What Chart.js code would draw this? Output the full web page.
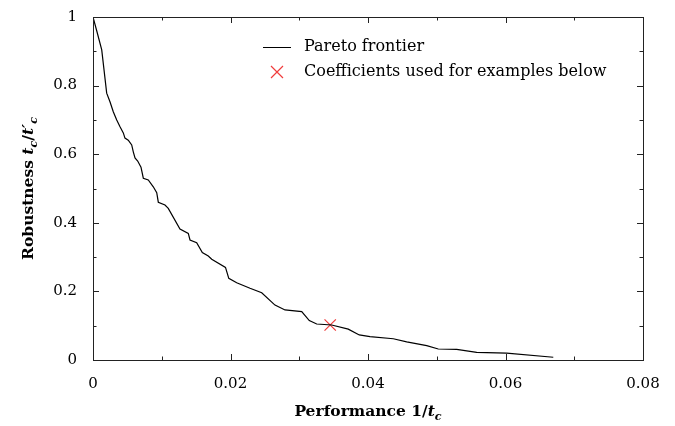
<!DOCTYPE html>
<html>
<head>
<meta charset="utf-8">
<script src="https://cdn.jsdelivr.net/npm/chart.js@4/dist/chart.umd.min.js"></script>
<style>
  html, body { margin: 0; padding: 0; background: #fff; }
  #wrap { width: 675px; height: 426px; }
</style>
</head>
<body>
<div id="wrap"><canvas id="paretoChart"></canvas></div>
<script>
// Pareto frontier
const performance = [0, 0.00054, 0.00127, 0.00199, 0.00247, 0.00295, 0.00345, 0.00393, 0.00441, 0.00465,
    0.00513, 0.00563, 0.00586, 0.00611, 0.0065, 0.00698, 0.00732, 0.00804, 0.00877, 0.00927,
    0.0095, 0.01047, 0.01095, 0.01265, 0.01386, 0.01411, 0.01508, 0.0159, 0.01677, 0.01727,
    0.01927, 0.01975, 0.0209, 0.02284, 0.02454, 0.02647, 0.02793, 0.03036, 0.03146, 0.03254,
    0.03472, 0.03713, 0.03873, 0.04029, 0.04368, 0.04563, 0.04854, 0.05022, 0.0529, 0.05581,
    0.06017, 0.06695];
const robustness = [1.0, 0.96, 0.904, 0.778, 0.753, 0.724, 0.700, 0.680, 0.662, 0.647,
    0.641, 0.627, 0.607, 0.589, 0.580, 0.562, 0.530, 0.525, 0.505, 0.488,
    0.460, 0.452, 0.442, 0.382, 0.369, 0.350, 0.342, 0.313, 0.303, 0.294,
    0.270, 0.238, 0.225, 0.209, 0.196, 0.160, 0.146, 0.141, 0.115, 0.105,
    0.102, 0.090, 0.073, 0.068, 0.062, 0.053, 0.042, 0.032, 0.031, 0.022,
    0.020, 0.008];

const exampleX = [0.0345];
const exampleY = [0.102];

const xTickValues = [0, 0.01, 0.02, 0.03, 0.04, 0.05, 0.06, 0.07, 0.08];
const xTickLabels = ['0', '', '0.02', '', '0.04', '', '0.06', '', '0.08'];
const yTickValues = [0, 0.1, 0.2, 0.3, 0.4, 0.5, 0.6, 0.7, 0.8, 0.9, 1];
const yTickLabels = ['0', '', '0.2', '', '0.4', '', '0.6', '', '0.8', '', '1'];

const SERIF = '"DejaVu Serif", "Liberation Serif", serif';
const RED = '#f03c3c';

// draws text made of several runs (normal / italic / subscript)
function drawRuns(ctx, runs, x, y, size) {
    let total = 0;
    runs.forEach(r => {
        ctx.font = (r.style || '') + ' ' + (r.sub ? size * 0.72 : size) + 'px ' + SERIF;
        r.w = ctx.measureText(r.t).width;
        total += r.w;
    });
    let cx = x - total / 2;
    runs.forEach(r => {
        ctx.font = (r.style || '') + ' ' + (r.sub ? size * 0.72 : size) + 'px ' + SERIF;
        ctx.fillText(r.t, cx, y + (r.sub ? size * 0.25 : 0));
        cx += r.w;
    });
}

const framePlugin = {
    id: 'framePlugin',
    afterDraw(chart) {
        const ctx = chart.ctx;
        const a = chart.chartArea;
        const xs = chart.scales.x, ys = chart.scales.y;
        ctx.save();
        ctx.strokeStyle = '#222';
        ctx.lineWidth = 1;
        ctx.strokeRect(a.left + 0.5, a.top + 0.5, a.right - a.left, a.bottom - a.top);

        // inward ticks on all four sides
        ctx.beginPath();
        xTickValues.forEach((v, i) => {
            const px = Math.round(xs.getPixelForValue(v)) + 0.5;
            const len = xTickLabels[i] ? 6 : 3.5;
            ctx.moveTo(px, a.bottom); ctx.lineTo(px, a.bottom - len);
            ctx.moveTo(px, a.top); ctx.lineTo(px, a.top + len);
        });
        yTickValues.forEach((v, i) => {
            const py = Math.round(ys.getPixelForValue(v)) + 0.5;
            const len = yTickLabels[i] ? 6 : 3.5;
            ctx.moveTo(a.left, py); ctx.lineTo(a.left + len, py);
            ctx.moveTo(a.right, py); ctx.lineTo(a.right - len, py);
        });
        ctx.stroke();

        // legend
        ctx.fillStyle = '#000';
        ctx.textBaseline = 'middle';
        ctx.textAlign = 'left';
        ctx.font = '16px ' + SERIF;
        ctx.beginPath();
        ctx.strokeStyle = '#000';
        ctx.moveTo(263, 47.5); ctx.lineTo(291, 47.5);
        ctx.stroke();
        ctx.fillText('Pareto frontier', 304, 47);
        ctx.strokeStyle = RED;
        ctx.lineWidth = 1.2;
        ctx.beginPath();
        ctx.moveTo(271, 66); ctx.lineTo(283, 78);
        ctx.moveTo(283, 66); ctx.lineTo(271, 78);
        ctx.stroke();
        ctx.fillText('Coefficients used for examples below', 304, 72);

        // axis titles
        ctx.textBaseline = 'alphabetic';
        drawRuns(ctx, [
            { t: 'Performance 1/', style: 'bold' },
            { t: 't', style: 'italic bold' },
            { t: 'c', style: 'italic bold', sub: true }
        ], (a.left + a.right) / 2, 416, 15.5);

        ctx.translate(33, (a.top + a.bottom) / 2);
        ctx.rotate(-Math.PI / 2);
        drawRuns(ctx, [
            { t: 'Robustness ', style: 'bold' },
            { t: 't', style: 'italic bold' },
            { t: 'c', style: 'italic bold', sub: true },
            { t: '/', style: 'bold' },
            { t: 't\u2032', style: 'italic bold' },
            { t: 'c', style: 'italic bold', sub: true }
        ], 0, 0, 15.5);
        ctx.restore();
    }
};

new Chart(document.getElementById('paretoChart'), {
    type: 'scatter',
    data: {
        datasets: [{
            label: 'Pareto frontier',
            data: performance.map((x, i) => ({ x: x, y: robustness[i] })),
            showLine: true,
            borderColor: '#000',
            borderWidth: 1.2,
            pointRadius: 0,
            tension: 0
        }, {
            label: 'Coefficients used for examples below',
            data: exampleX.map((x, i) => ({ x: x, y: exampleY[i] })),
            pointStyle: 'crossRot',
            pointRadius: 8,
            borderColor: RED,
            borderWidth: 1.2,
            backgroundColor: RED
        }]
    },
    options: {
        responsive: true,
        maintainAspectRatio: false,
        animation: false,
        layout: { padding: { top: 17, right: 32, left: 0, bottom: 0 } },
        plugins: {
            legend: { display: false },
            tooltip: { enabled: false }
        },
        scales: {
            x: {
                type: 'linear',
                min: 0, max: 0.08,
                afterBuildTicks: s => { s.ticks = xTickValues.map(v => ({ value: v })); },
                afterFit: s => { s.height = 66; },
                grid: { display: false },
                border: { display: false },
                ticks: {
                    autoSkip: false,
                    maxRotation: 0,
                    padding: 7,
                    color: '#000',
                    font: { family: SERIF, size: 15 },
                    callback: (v, i) => xTickLabels[i]
                }
            },
            y: {
                type: 'linear',
                min: 0, max: 1,
                afterBuildTicks: s => { s.ticks = yTickValues.map(v => ({ value: v })); },
                afterFit: s => { s.width = 93; },
                grid: { display: false },
                border: { display: false },
                ticks: {
                    autoSkip: false,
                    padding: 8,
                    color: '#000',
                    font: { family: SERIF, size: 15 },
                    callback: (v, i) => yTickLabels[i]
                }
            }
        }
    },
    plugins: [framePlugin]
});
</script>
</body>
</html>
